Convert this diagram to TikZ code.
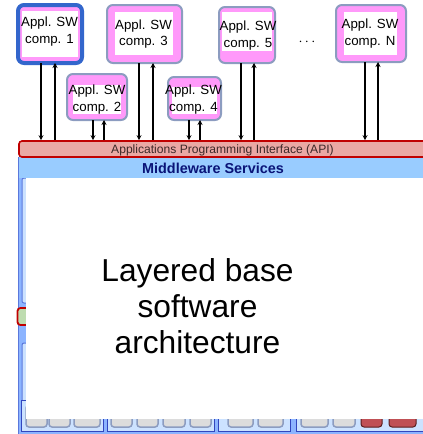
\documentclass[tikz,border=0pt]{standalone}
\usepackage{fontspec}
\setmainfont{Liberation Sans}
\usetikzlibrary{arrows.meta,calc}
\definecolor{pinkf}{RGB}{255,153,250}
\definecolor{boxbd}{RGB}{140,156,192}
\definecolor{bluebd}{RGB}{51,102,204}
\definecolor{apifill}{RGB}{234,168,164}
\definecolor{apibd}{RGB}{192,0,0}
\definecolor{apitext}{RGB}{60,40,40}
\definecolor{mwfill}{RGB}{153,204,255}
\definecolor{mwtext}{RGB}{10,20,120}
\definecolor{colblue}{RGB}{140,180,255}
\definecolor{lightblue}{RGB}{204,226,255}
\definecolor{contbd}{RGB}{50,70,190}
\definecolor{colbd}{RGB}{90,120,220}
\definecolor{greyf}{RGB}{220,220,220}
\definecolor{redf}{RGB}{192,80,85}
\definecolor{redbd}{RGB}{90,30,30}
\definecolor{greenf}{RGB}{190,220,176}
\begin{document}
\begin{tikzpicture}[x=1pt,y=-1pt,
  comp/.style={draw=boxbd,line width=2pt,fill=pinkf,rounded corners=6pt,inner sep=0pt,outer sep=0pt},
  inwhite/.style={fill=white},
  ctext/.style={font=\fontsize{13.3}{16.5}\selectfont,align=center,inner sep=0pt},
  arr/.style={line width=1.6pt,-{Stealth[length=5pt,width=5pt]}},
  cont/.style={draw=contbd,line width=1pt,fill=lightblue},
  gbox/.style={draw=boxbd,line width=1.5pt,fill=greyf,rounded corners=3pt},
  rbox/.style={draw=redbd,line width=1pt,fill=redf,rounded corners=3pt},
  bigtext/.style={font=\fontsize{31.7}{36}\selectfont,anchor=base,inner sep=0pt}]
\useasboundingbox (0,0) rectangle (423,434);
% background column and base strip
\fill[colblue] (18,157) rectangle (423,434);
\draw[colbd,line width=1pt] (18.5,157) -- (18.5,434);
\draw[colbd,line width=1pt,fill=lightblue,rounded corners=2pt] (22,178) rectangle (34,303);
\draw[colbd,line width=1pt,fill=lightblue,rounded corners=2pt] (22,343) rectangle (34,431);
\draw[apibd,line width=1.8pt,fill=greenf,rounded corners=3pt] (17.5,308) rectangle (34,325);
% bottom containers
\draw[cont] (21,400) rectangle (103,431);
\draw[cont] (107,400) rectangle (214,431);
\draw[cont] (218,400) rectangle (290,431);
\draw[cont] (296,400) rectangle (430,431);
\foreach \a/\b in {26/47,49/70,74/100,111/132,137/158,163/185,190/211,228/253,258/283,301/328,333/355}
  \draw[gbox] (\a,405) rectangle (\b,427);
\draw[rbox] (361,405) rectangle (382,427);
\draw[rbox] (389,405) rectangle (416,427);
% white panel
\fill[white] (26,178) rectangle (423,419);
% middleware and API
\node[fill=mwfill,minimum width=404pt,minimum height=21pt,inner sep=0pt] (mw) at (221,167.5) {};
\draw[colbd,line width=1pt] (18.5,157) -- (18.5,178);
\node[font=\bfseries\fontsize{14.4}{16}\selectfont,text=mwtext,inner sep=0pt] (mwt) at (213,168) {Middleware Services};
\node[draw=apibd,line width=1.6pt,fill=apifill,rounded corners=3pt,minimum width=421pt,minimum height=16pt,inner sep=0pt] (api) at (229.5,149) {};
\node[font=\fontsize{12.1}{14}\selectfont,text=apitext,inner sep=0pt] (apit) at (222.5,150) {Applications Programming Interface (API)};
% component boxes
\node[comp,draw=bluebd,line width=4pt,minimum width=64pt,minimum height=58pt] (b1) at (50,34) {};
\fill[inwhite] (22,11) rectangle (78,57);
\node[ctext] (t1) at (49.5,31.5) {Appl. SW\\comp. 1};
\node[comp,minimum width=75pt,minimum height=58pt] (b3) at (144.5,34) {};
\fill[inwhite] (115,12) rectangle (173,55);
\node[ctext] (t3) at (143.5,34) {Appl. SW\\comp. 3};
\node[comp,minimum width=56pt,minimum height=56pt] (b5) at (247,35) {};
\fill[inwhite] (222,12) rectangle (272,51);
\node[ctext] (t5) at (248,35.5) {Appl. SW\\comp. 5};
\node[comp,minimum width=70pt,minimum height=57pt] (bN) at (371,33.5) {};
\fill[inwhite] (344,12) rectangle (397,55);
\node[ctext] (tN) at (370,33.5) {Appl. SW\\comp. N};
\node[comp,minimum width=60pt,minimum height=46pt] (b2) at (97,97) {};
\fill[inwhite] (73,85) rectangle (121,114);
\node[ctext] (t2) at (97,99.5) {Appl. SW\\comp. 2};
\node[comp,minimum width=53pt,minimum height=43pt] (b4) at (194.5,98.5) {};
\fill[inwhite] (172,87) rectangle (217,114);
\node[ctext] (t4) at (193.5,99.5) {Appl. SW\\comp. 4};
\node[font=\fontsize{15}{16}\selectfont,inner sep=0pt] (dots) at (307,42) {$\cdots$};
% arrows
\foreach \b/\d/\u in {b1/-9/5,b2/-4/7,b3/-5.5/8.5,b4/-5.5/5.5,b5/-6/7,bN/-6/7}{
  \draw[arr] ([xshift=\d pt]\b.south) -- ([xshift=\d pt]\b.south |- api.north);
  \draw[arr] ([xshift=\u pt]\b.south |- api.north) -- ([xshift=\u pt]\b.south);
}
% main text
\node[bigtext] (m1) at (197.5,281) {Layered base};
\node[bigtext] (m2) at (197.5,317) {software};
\node[bigtext] (m3) at (197.5,353) {architecture};
\end{tikzpicture}
\end{document}
